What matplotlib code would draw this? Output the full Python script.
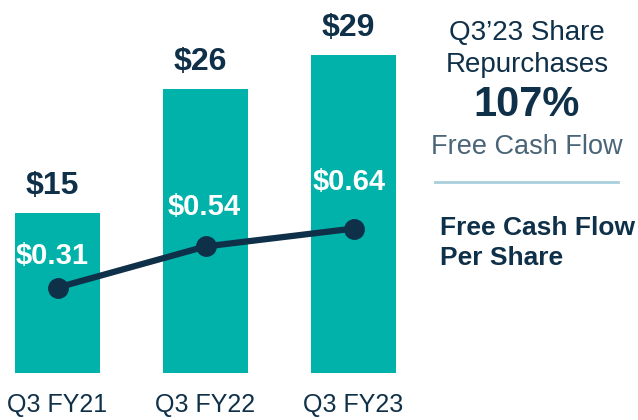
import matplotlib.pyplot as plt

plt.rcParams['font.family'] = ['Liberation Sans', 'DejaVu Sans']

# data
quarters = ['Q3 FY21', 'Q3 FY22', 'Q3 FY23']
repurchases = [15, 26, 29]          # $ bars
fcf_per_share = [0.31, 0.54, 0.64]  # line
bar_labels = ['$15', '$26', '$29']
line_labels = ['$0.31', '$0.54', '$0.64']

teal = '#00b2a9'
navy = '#0f3049'

W, H = 638, 420
fig = plt.figure(figsize=(W / 100, H / 100), dpi=100)

# axes placed in pixel terms: x 0..420, y 373 (bottom) .. 10 (top)
ax = fig.add_axes([0, (H - 373) / H, 420 / W, (373 - 10) / H])
ax.bar(range(3), repurchases, width=85 / 148, color=teal)
ax.set_xlim(-57.5 / 148, (420 - 57.5) / 148)
ax.set_ylim(0.85, 0.85 + 363 / 11.31)
ax.axis('off')

for i, (v, lab) in enumerate(zip(repurchases, bar_labels)):
    ax.annotate(lab, (i, v), xytext=(-5, 12), textcoords='offset pixels',
                ha='center', va='bottom', fontsize=23, fontweight='bold', color=navy)

ax2 = ax.twinx()
ax2.set_ylim(-30 / 178.8, (343 - 10) / 178.8)
ax2.plot(range(3), fcf_per_share, color=navy, lw=4.5, marker='o', ms=14)
ax2.axis('off')
offs = [(-5, 32), (-1, 39), (-4, 47)]
for i, (v, lab) in enumerate(zip(fcf_per_share, line_labels)):
    ax2.annotate(lab, (i, v), xytext=offs[i], textcoords='offset pixels',
                 ha='center', va='center', fontsize=21, fontweight='bold', color='white')

for i, q in enumerate(quarters):
    fig.text((57.5 + 148 * i) / W, 1 - 405 / H, q, ha='center', va='center',
             fontsize=18, color=navy)

# right-hand panel
cx = 527 / W
fig.text(cx, 1 - 33 / H, 'Q3\u201923 Share', ha='center', va='center', fontsize=20, color=navy)
fig.text(cx, 1 - 65 / H, 'Repurchases', ha='center', va='center', fontsize=20, color=navy)
fig.text(cx, 1 - 105 / H, '107%', ha='center', va='center', fontsize=30,
         fontweight='bold', color=navy)
fig.text(cx, 1 - 147 / H, 'Free Cash Flow', ha='center', va='center', fontsize=19.5, color='#4a6577')
fig.add_artist(plt.Line2D([435 / W, 618 / W], [1 - 182 / H, 1 - 182 / H],
                          color='#a8cfdb', lw=2))
fig.text(440 / W, 1 - 228 / H, 'Free Cash Flow', ha='left', va='center', fontsize=19,
         fontweight='bold', color=navy)
fig.text(440 / W, 1 - 258 / H, 'Per Share', ha='left', va='center', fontsize=19,
         fontweight='bold', color=navy)

fig.savefig('out.png', dpi=100)
